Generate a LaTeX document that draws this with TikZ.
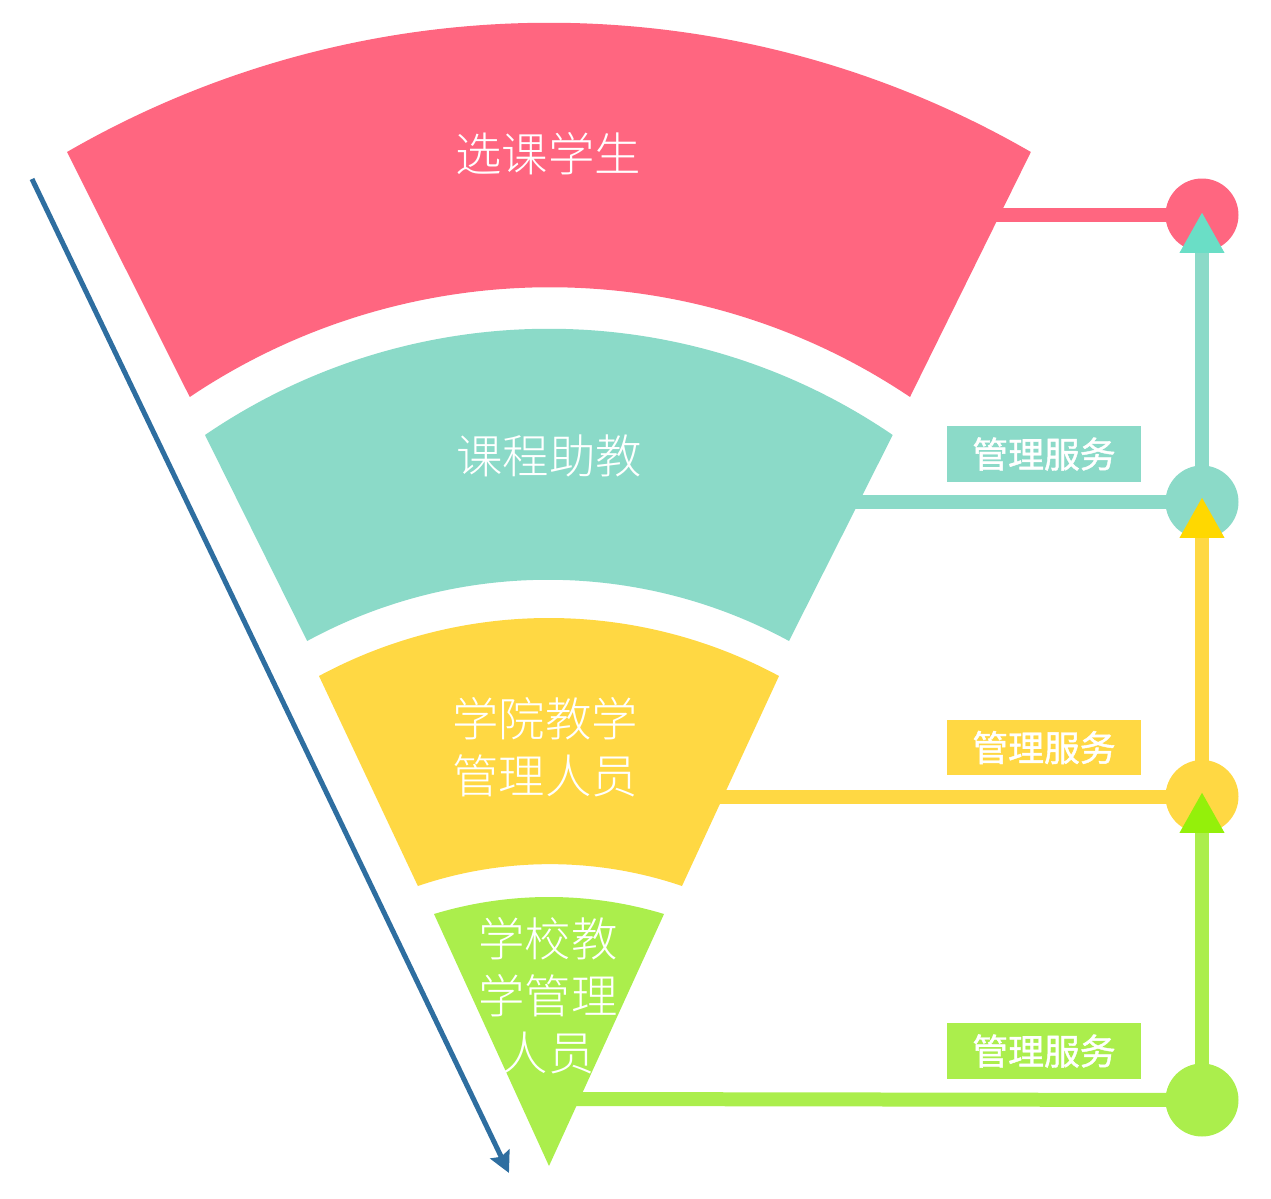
\documentclass[tikz,border=0pt]{standalone}
\usepackage{fontspec}
\usetikzlibrary{arrows.meta}
\newfontfamily\song{Noto Sans CJK SC Light}
\newfontfamily\hei{Noto Sans CJK SC}[FakeBold=1.2]
\definecolor{cpink}{RGB}{255,102,128}
\definecolor{cteal}{RGB}{139,218,200}
\definecolor{cyellow}{RGB}{255,216,67}
\definecolor{cgreen}{RGB}{171,238,76}
\definecolor{ctealtip}{RGB}{106,222,198}
\definecolor{cyellowtip}{RGB}{255,216,0}
\definecolor{cgreentip}{RGB}{148,240,10}
\definecolor{cblue}{RGB}{46,110,160}
\begin{document}
\begin{tikzpicture}[x=0.02cm,y=0.02cm,
  conn/.style={line width=0.28cm},
  dot/.style={circle, minimum size=1.46cm, inner sep=0pt},
  lbl/.style={minimum width=3.88cm, minimum height=1.12cm, inner sep=0pt, text=white,
    font=\hei\fontsize{20.4}{24}\selectfont},
  bandtxt/.style={text=white, align=center, inner sep=0pt,
    font=\song\fontsize{26.4}{32.4}\selectfont},
  uptip/.style={-{Triangle[width=0.84cm, length=0.82cm, color=#1]}},
]
\useasboundingbox (0,0) rectangle (1271,-1199);

% funnel bands
\fill[cpink] (67,-152) arc[start angle=120.03, end angle=59.97, radius=963]
  -- (910,-397) arc[start angle=56.1, end angle=123.9, radius=645.7] -- cycle;
\fill[cteal] (205,-435) arc[start angle=124.34, end angle=55.66, radius=609.6]
  -- (789,-641) arc[start angle=61.48, end angle=118.52, radius=504.6] -- cycle;
\fill[cyellow] (319,-676) arc[start angle=118.31, end angle=61.69, radius=485]
  -- (682,-886) arc[start angle=71.21, end angle=108.79, radius=410] -- cycle;
\fill[cgreen] (434,-914) arc[start angle=106.82, end angle=73.18, radius=397.5]
  -- (549,-1166) -- cycle;

% band texts
\node[bandtxt] (t1) at (548,-154) {选课学生};
\node[bandtxt] (t2) at (549,-456) {课程助教};
\node[bandtxt] (t3) at (545,-747) {学院教学\\管理人员};
\node[bandtxt] (t4) at (548,-996) {学校教\\学管理\\人员};

% blue arrow
\coordinate (bS) at (32,-179);
\coordinate (bE) at (509,-1173);
\draw[line width=0.1cm, cblue, -{Stealth[length=0.42cm, width=0.42cm, inset=0.06cm]}] (bS) -- (bE);

% connector start points inside bands
\coordinate (pE) at (990,-215);
\coordinate (tE) at (850,-502);
\coordinate (yE) at (715,-796.5);
\coordinate (gE) at (572,-1099);

% circles
\node[dot, fill=cpink] (pC) at (1202,-215) {};
\node[dot, fill=cteal] (tC) at (1202,-502) {};
\node[dot, fill=cyellow] (yC) at (1202,-796.5) {};
\node[dot, fill=cgreen] (gC) at (1202,-1100) {};

% horizontal connectors
\draw[conn, cpink] (pE) -- (pC.center);
\draw[conn, cteal] (tE) -- (tC.center);
\draw[conn, cyellow] (yE) -- (yC.center);
\draw[conn, cgreen] (gE) -- (gC.center);

% labels
\node[lbl, fill=cteal] (l1) at (1044,-454) {管理服务};
\node[lbl, fill=cyellow] (l2) at (1044,-747.5) {管理服务};
\node[lbl, fill=cgreen] (l3) at (1044,-1051) {管理服务};

% vertical arrows
\draw[conn, cteal, uptip=ctealtip] (tC.center) -- ([yshift=0.06cm]pC.center);
\draw[conn, cyellow, uptip=cyellowtip] (yC.center) -- ([yshift=0.1cm]tC.center);
\draw[conn, cgreen, uptip=cgreentip] (gC.center) -- ([yshift=0.09cm]yC.center);
\end{tikzpicture}
\end{document}
